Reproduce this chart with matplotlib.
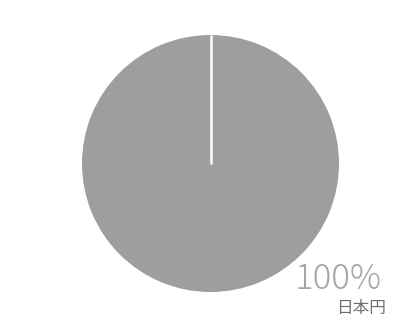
import matplotlib
matplotlib.use("Agg")
import numpy as np
import matplotlib.pyplot as plt

# Currency share data
labels = ["日本円"]
shares = [100]
pct_labels = ["100%"]

W, H = 399, 322
fig = plt.figure(figsize=(W / 100, H / 100), dpi=100)

cx, cy, r = 210.5, 158.5, 128.5
start = 90
ax = fig.add_axes([(cx - r) / W, (cy - r) / H, 2 * r / W, 2 * r / H])
ax.pie(shares, startangle=start, counterclock=False, colors=["#9d9f9d"],
       wedgeprops=dict(edgecolor="none"))
# slice boundary at the start angle
t = np.deg2rad(start)
ax.plot([0, np.cos(t)], [0, np.sin(t)], color="white", lw=1.8,
        solid_capstyle="butt")
ax.set_xlim(-1, 1)
ax.set_ylim(-1, 1)
ax.set_aspect("equal")
ax.axis("off")

fam = ["Noto Sans CJK JP", "DejaVu Sans"]
fig.text(382 / W, 1 - 289 / H, pct_labels[0], ha="right", va="baseline",
         fontsize=25, color="#a6a6a6", family=fam, fontweight="light")
fig.text(386 / W, 1 - 313 / H, labels[0], ha="right", va="baseline",
         fontsize=12, color="#6e6e6e", family=fam)

fig.savefig("out.png", dpi=100)
